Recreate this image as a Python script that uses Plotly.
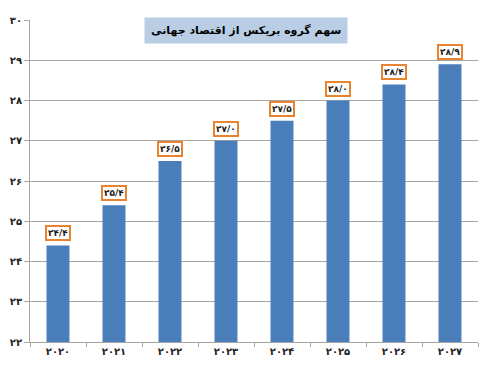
import plotly.graph_objects as go

FA = str.maketrans("0123456789.", "۰۱۲۳۴۵۶۷۸۹/")

years = ["2020", "2021", "2022", "2023", "2024", "2025", "2026", "2027"]
values = [24.4, 25.4, 26.5, 27.0, 27.5, 28.0, 28.4, 28.9]
value_labels = ["24.4", "25.4", "26.5", "27.0", "27.5", "28.0", "28.4", "28.9"]
y_ticks = [22, 23, 24, 25, 26, 27, 28, 29, 30]
title_text = "سهم گروه بریکس از اقتصاد جهانی"

year_labels = [y.translate(FA) for y in years]
ytick_labels = [str(v).translate(FA) for v in y_ticks]
val_text = [v.translate(FA) for v in value_labels]

FONT = "DejaVu Sans"

fig = go.Figure()
fig.add_trace(go.Bar(
    x=year_labels, y=values, marker=dict(color="#4a7ebb", line=dict(width=0)),
    width=0.41, hoverinfo="skip",
))

for xl, v, t in zip(year_labels, values, val_text):
    fig.add_annotation(
        x=xl, y=v, xref="x", yref="y", text="<b>" + t + "</b>", showarrow=False,
        yanchor="bottom", yshift=4, bgcolor="white", bordercolor="#e8832f",
        borderwidth=2, borderpad=1,
        font=dict(family=FONT, size=9, color="#222222"),
    )

fig.add_annotation(
    x=0.482, y=0.966, xref="paper", yref="paper", text="<b>" + title_text + "</b>",
    showarrow=False, xanchor="center", yanchor="middle",
    bgcolor="#b9cde5", borderpad=6,
    font=dict(family=FONT, size=11, color="#000000", weight="bold"),
)

fig.update_layout(
    width=487, height=380,
    margin=dict(l=30, r=9, t=20, b=38),
    paper_bgcolor="white", plot_bgcolor="white",
    showlegend=False, bargap=0.59,
)
fig.update_xaxes(
    type="category", showline=True, linecolor="#a6a6a6", linewidth=1,
    ticks="outside", tickson="boundaries", ticklen=4, tickcolor="#a6a6a6",
    tickfont=dict(family=FONT, size=10, color="#222222"),
    showgrid=False,
    tickvals=year_labels, ticktext=["<b>" + t + "</b>" for t in year_labels],
)
fig.update_yaxes(
    range=[22, 30], tickvals=y_ticks, ticktext=["<b>" + t + "</b>" for t in ytick_labels],
    showline=True, linecolor="#a6a6a6", linewidth=1,
    ticks="outside", ticklen=5, tickcolor="#a6a6a6",
    showgrid=True, gridcolor="#a6a6a6", gridwidth=1, zeroline=False,
    tickfont=dict(family=FONT, size=10, color="#222222"),
)

fig.write_html("out.html")
